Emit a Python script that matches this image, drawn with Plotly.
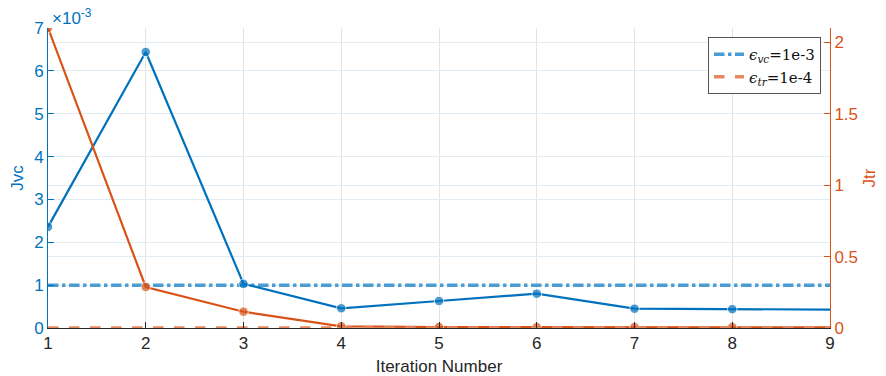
import plotly.graph_objects as go

iterations = [1, 2, 3, 4, 5, 6, 7, 8, 9]
jvc = [2.36e-3, 6.44e-3, 1.03e-3, 0.46e-3, 0.63e-3, 0.80e-3, 0.45e-3, 0.44e-3, 0.43e-3]
jtr = [2.10, 0.287, 0.114, 0.012, 0.007, 0.006, 0.006, 0.006, 0.005]
eps_vc = 1e-3
eps_tr = 1e-4
left_ticks = [0, 1e-3, 2e-3, 3e-3, 4e-3, 5e-3, 6e-3, 7e-3]
left_ticktext = ["0", "1", "2", "3", "4", "5", "6", "7"]
right_ticks = [0, 0.5, 1, 1.5, 2]
right_ticktext = ["0", "0.5", "1", "1.5", "2"]

BLUE = "#0072BD"
ORANGE = "#D95319"
BLUE_L = "#4C9CD4"
ORANGE_L = "#E6875E"
FONT = "Liberation Sans, Arial, sans-serif"

msize = [9.5] * (len(iterations) - 1) + [0]

fig = go.Figure()
fig.add_trace(go.Scatter(x=[iterations[0], iterations[-1]], y=[eps_vc, eps_vc], mode="lines",
                         line=dict(color=BLUE_L, width=3.5, dash="dashdot"),
                         name="<i>ϵ</i><sub><i>vc</i></sub>=1e-3", yaxis="y"))
fig.add_trace(go.Scatter(x=iterations, y=jvc, mode="lines+markers",
                         line=dict(color=BLUE, width=2.2), marker=dict(size=msize, color=BLUE),
                         showlegend=False, yaxis="y"))
fig.add_trace(go.Scatter(x=iterations, y=jtr, mode="lines+markers",
                         line=dict(color=ORANGE, width=2.2), marker=dict(size=msize, color=ORANGE),
                         showlegend=False, yaxis="y2"))
fig.add_trace(go.Scatter(x=[iterations[0], iterations[-1]], y=[eps_tr, eps_tr], mode="lines",
                         line=dict(color=ORANGE_L, width=3.5, dash="dash"),
                         name="<i>ϵ</i><sub><i>tr</i></sub>=1e-4", yaxis="y2"))

fig.update_layout(
    width=886, height=376,
    margin=dict(l=48, r=56, t=28, b=48),
    plot_bgcolor="white", paper_bgcolor="white",
    font=dict(family=FONT, size=15, color="#262626"),
    showlegend=True,
    legend=dict(x=0.9885, y=0.97, xanchor="right", yanchor="top",
                bgcolor="white", bordercolor="#555555", borderwidth=1,
                font=dict(family="DejaVu Serif, Liberation Serif, serif", size=15, color="#111111"),
                tracegroupgap=0, itemwidth=30),
    xaxis=dict(range=[1, 9], tickvals=iterations, ticktext=[str(i) for i in iterations],
               automargin=False,
               showgrid=True, gridcolor="#e3e3e3", gridwidth=1,
               showline=True, linecolor="#262626", linewidth=1,
               ticks="inside", ticklen=6, tickcolor="#262626",
               tickfont=dict(family=FONT, size=17, color="#262626"),
               title=dict(text="Iteration Number", font=dict(family=FONT, size=17, color="#262626"), standoff=8),
               zeroline=False),
    yaxis=dict(range=[0, 7e-3], tickvals=left_ticks, ticktext=left_ticktext,
               automargin=False,
               showgrid=True, gridcolor="#e1ebf4", gridwidth=1,
               showline=True, linecolor=BLUE, linewidth=1,
               ticks="inside", ticklen=6, tickcolor=BLUE,
               tickfont=dict(family=FONT, size=17, color=BLUE),
               title=dict(text="Jvc", font=dict(family=FONT, size=17, color=BLUE), standoff=6),
               zeroline=False),
    yaxis2=dict(range=[0, 2.1], tickvals=right_ticks, ticktext=right_ticktext,
                overlaying="y", side="right", automargin=False,
                showgrid=True, gridcolor="#e1ebf4", gridwidth=1,
                showline=True, linecolor=ORANGE, linewidth=1,
                ticks="inside", ticklen=6, tickcolor=ORANGE,
                tickfont=dict(family=FONT, size=17, color=ORANGE),
                title=dict(text="Jtr", font=dict(family=FONT, size=17, color=ORANGE), standoff=6),
                zeroline=False),
    annotations=[dict(text="×10<sup>-3</sup>", x=0, y=1, xref="paper", yref="paper",
                      xanchor="left", yanchor="bottom", showarrow=False, yshift=-2, xshift=2,
                      font=dict(size=17, color=BLUE, family=FONT))],
)

fig.write_html("out.html", config={"displayModeBar": False},
               post_script="document.body.style.margin='0px';document.body.style.overflow='hidden';")
